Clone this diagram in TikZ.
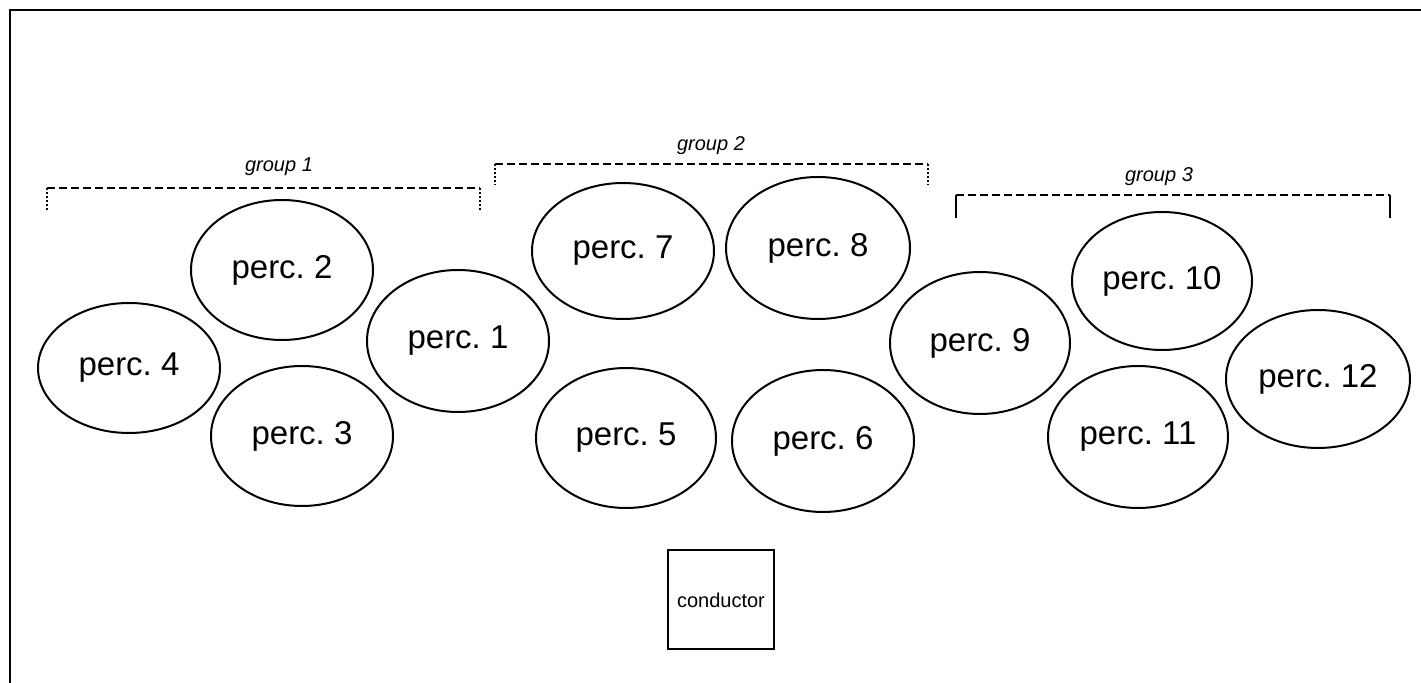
\documentclass[tikz,border=0pt]{standalone}
\usepackage{fontspec}
\setmainfont{Liberation Sans}
\usetikzlibrary{shapes.geometric}
\tikzset{perc/.style={draw, ellipse, line width=1pt, inner sep=0pt, minimum width=91pt, minimum height=70pt, font=\fontsize{16.5}{20}\selectfont},
  grouplabel/.style={font=\itshape\fontsize{10}{12}\selectfont},
  bracket/.style={line width=0.7pt, dash pattern=on 4pt off 2pt},
  tick/.style={line width=0.7pt, dash pattern=on 1pt off 1pt}}

\begin{document}
\begin{tikzpicture}[x=0.5pt,y=-0.5pt]
     \useasboundingbox (0,0) rectangle (1421,683);
     \draw[line width=1pt] (10,683) -- (10,10) -- (1421,10);
     % group 1
     \node[perc] (p2) at (282,270) {perc.\ 2};
     \node[perc, minimum height=65pt] (p4) at (129,368) {perc.\ 4};
     \node[perc, minimum height=71pt] (p1) at (458,341) {perc.\ 1};
     \node[perc] (p3) at (302,436) {perc.\ 3};
     % group 2
     \node[perc, minimum height=68pt] (p7) at (623,251) {perc.\ 7};
     \node[perc, minimum height=71pt, minimum width=92pt] (p8) at (818,248) {perc.\ 8};
     \node[perc, minimum width=90pt] (p5) at (626,438) {perc.\ 5};
     \node[perc, minimum height=71pt] (p6) at (823,441) {perc.\ 6};
     % group 3
     \node[perc, minimum width=90pt, minimum height=71pt] (p9) at (980,343) {perc.\ 9};
     \node[perc, minimum width=90pt, minimum height=69pt] (p10) at (1162,281) {perc.\ 10};
     \node[perc, minimum width=90pt, minimum height=71pt] (p11) at (1138,437) {perc.\ 11};
     \node[perc, minimum width=92pt, minimum height=69pt] (p12) at (1318,379) {perc.\ 12};
     % brackets
     \draw[bracket] (47,188) -- (480,188);
     \draw[tick] (47,188) -- (47,211);
     \draw[tick] (480,188) -- (480,211);
     \node[grouplabel] (g1) at (279,167) {group 1};
     \draw[bracket] (495,164) -- (928,164);
     \draw[tick] (495,164) -- (495,185);
     \draw[tick] (928,164) -- (928,185);
     \node[grouplabel] (g2) at (711,146) {group 2};
     \draw[bracket] (956,195) -- (1390,195);
     \draw[line width=1pt] (956,195) -- (956,218);
     \draw[line width=1pt] (1390,195) -- (1390,218);
     \node[grouplabel] (g3) at (1159,177) {group 3};
     % conductor
     \node[draw, line width=1pt, minimum width=53pt, minimum height=49.5pt, inner sep=0pt, font=\fontsize{10}{12}\selectfont] (cond) at (721,600) {conductor};
\end{tikzpicture}
\end{document}
